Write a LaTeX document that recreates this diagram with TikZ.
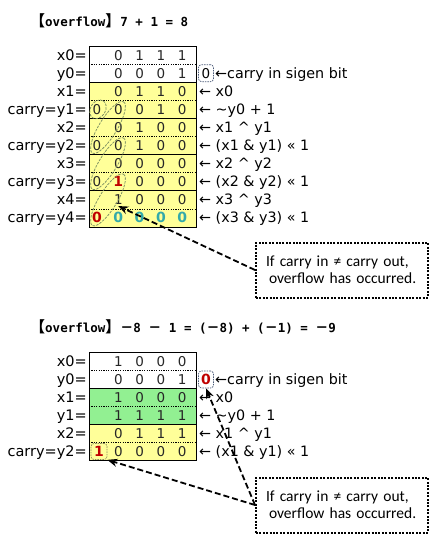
\documentclass[tikz,border=0pt]{standalone}
\usepackage{fontspec}
\setmainfont{DejaVu Sans}
\newfontfamily\monofont{DejaVu Sans Mono}
\newfontfamily\cjkfont{Noto Sans CJK JP}
\newfontfamily\calfont{Carlito}
\usetikzlibrary{arrows.meta,calc}
\definecolor{rowyellow}{HTML}{FFFF99}
\definecolor{rowgreen}{HTML}{92F092}
\definecolor{bitred}{HTML}{C00000}
\definecolor{bitteal}{HTML}{33AAAA}
\definecolor{ovalc}{HTML}{7A8E62}
\definecolor{boxblue}{HTML}{4A5A78}
\definecolor{boxolive}{HTML}{8C8C5A}
\newcommand\tbr[1]{{\cjkfont\bfseries\fontsize{15}{15}\selectfont #1}}
\newcommand\tmin{{\cjkfont\bfseries\fontsize{13}{13}\selectfont －}}
\newcommand\tmono[1]{{\monofont\bfseries\fontsize{12.5}{12.5}\selectfont #1}}
\begin{document}
\begin{tikzpicture}[x=1pt,y=-1pt,
  lbl/.style={anchor=base east,inner sep=0pt,font=\fontsize{14.5}{14.5}\selectfont},
  rlbl/.style={anchor=base west,inner sep=0pt,font=\fontsize{14.3}{14.3}\selectfont},
  bit/.style={anchor=base,inner sep=1pt,font=\fontsize{13.5}{13.5}\selectfont,text=black!85},
  redbit/.style={bit,font=\fontsize{14}{14}\selectfont\bfseries,text=bitred},
  tealbit/.style={bit,font=\fontsize{14}{14}\selectfont\bfseries,text=bitteal},
  cinbox/.style={draw=boxblue,rounded corners=3pt,line width=.7pt,dash pattern=on 1.5pt off 1pt,
     minimum width=15pt,minimum height=17pt,inner sep=0pt,font=\fontsize{13.5}{13.5}\selectfont},
  coutbox/.style={draw=boxolive,rounded corners=3pt,line width=.7pt,dash pattern=on 1.5pt off 1pt,
     minimum width=16pt,minimum height=16pt,inner sep=0pt},
  oval/.style={draw=ovalc,line width=.75pt,dash pattern=on 2.5pt off 1.2pt},
  callout/.style={draw=black,line width=2pt,dash pattern=on 2pt off 1.4pt,
     minimum width=172pt,minimum height=55pt,text width=152pt,align=left,
     font=\calfont\fontsize{15.5}{17}\selectfont},
  callarrow/.style={-{Stealth[length=10pt,width=8pt]},line width=1.8pt,dash pattern=on 6pt off 3pt},
  tline/.style={line width=.8pt},
  dline/.style={line width=.8pt,dash pattern=on 1.2pt off 1.2pt},
  title/.style={anchor=base west,inner sep=0pt}
]
\fill[white] (0,0) rectangle (440,550);
\useasboundingbox (0,0) rectangle (440,550);

% ---------------- titles ----------------
\node[title] (ti1) at (30,26) {\tbr{【}\tmono{overflow}\tbr{】}\tmono{7 + 1 = 8}};
\node[title] (ti2) at (30,332) {\tbr{【}\tmono{overflow}\tbr{】}\tmin\tmono{8 }\tmin\tmono{ 1 = (}\tmin\tmono{8) + (}\tmin\tmono{1) = }\tmin\tmono{9}};

% ---------------- table 1 ----------------
\def\Ta{46}\def\H{18.1}
\fill[white] (89,\Ta) rectangle (196,{\Ta+2*\H});
\fill[rowyellow] (89,{\Ta+2*\H}) rectangle (196,{\Ta+10*\H});
\foreach \k in {2,4,6,8} \draw[tline] (89,{\Ta+\k*\H}) -- (196,{\Ta+\k*\H});
\foreach \k in {1,3,5,7,9} \draw[dline] (89,{\Ta+\k*\H}) -- (196,{\Ta+\k*\H});
\draw[tline] (89,\Ta) rectangle (196,{\Ta+10*\H});

% left labels
\foreach \r/\t in {0/x0=,1/y0=,2/x1=,3/carry=y1=,4/x2=,5/carry=y2=,6/x3=,7/carry=y3=,8/x4=,9/carry=y4=}
  \node[lbl] (la-\r) at (87,{\Ta+\r*\H+\H/2+5}) {\t};

% plain bits cols 1..4
\foreach \r/\bits in {0/{0,1,1,1},1/{0,0,0,1},2/{0,1,1,0},3/{0,0,1,0},4/{0,1,0,0},5/{0,1,0,0},6/{0,0,0,0},8/{1,0,0,0}}
  \foreach \b [count=\c] in \bits
    \node[bit] (ta-\r-\c) at ({97+21.3*\c},{\Ta+\r*\H+\H/2+5}) {\b};
\foreach \c in {2,3,4}
  \node[bit] (ta-7-\c) at ({97+21.3*\c},{\Ta+7*\H+\H/2+5}) {0};
\node[redbit] (ta-7-1) at ({97+21.3},{\Ta+7*\H+\H/2+5}) {1};
\foreach \c in {1,2,3,4}
  \node[tealbit] (ta-9-\c) at ({97+21.3*\c},{\Ta+9*\H+\H/2+5}) {0};
% carry column
\foreach \r in {3,5,7}
  \node[bit] (ta-\r-0) at (97,{\Ta+\r*\H+\H/2+5}) {0};
\node[redbit] (ta-9-0) at (97,{\Ta+9*\H+\H/2+5}) {0};

% ovals
\draw[oval,rotate around={58.6:(98,{\Ta+3.5*\H})}] (98,{\Ta+3.5*\H}) ellipse (10 and 7.5);
\foreach \k in {3,5,7}
  \draw[oval,rotate around={58.6:(108,{\Ta+(\k+1.5)*\H})}] (108,{\Ta+(\k+1.5)*\H}) ellipse (30 and 9);

% right labels
\node[cinbox] (cina) at (206,{\Ta+1.5*\H}) {0};
\node[rlbl] (ra-1) at (215,{\Ta+1.5*\H+5}) {←carry in sigen bit};
\foreach \r/\t in {2/x0,3/\textasciitilde y0 + 1,4/x1 \textasciicircum\ y1,5/(x1 \& y1) « 1,6/x2 \textasciicircum\ y2,7/(x2 \& y2) « 1,8/x3 \textasciicircum\ y3,9/(x3 \& y3) « 1}
  \node[rlbl] (ra-\r) at (199,{\Ta+\r*\H+\H/2+5}) {← \t};

% callout 1
\node[callout] (c1) at (342,270) {If carry in ≠ carry out,\\\hspace*{3pt}overflow has occurred.};
\draw[callarrow] (c1.west) -- (ta-8-1.south);

% ---------------- table 2 ----------------
\def\Tb{352.5}\def\Hb{18}
\fill[white] (89,\Tb) rectangle (196,{\Tb+2*\Hb});
\fill[rowgreen] (89,{\Tb+2*\Hb}) rectangle (196,{\Tb+4*\Hb});
\fill[rowyellow] (89,{\Tb+4*\Hb}) rectangle (196,{\Tb+6*\Hb});
\foreach \k in {2,4} \draw[tline] (89,{\Tb+\k*\Hb}) -- (196,{\Tb+\k*\Hb});
\foreach \k in {1,3,5} \draw[dline] (89,{\Tb+\k*\Hb}) -- (196,{\Tb+\k*\Hb});
\draw[tline] (89,\Tb) rectangle (196,{\Tb+6*\Hb});

\foreach \r/\t in {0/x0=,1/y0=,2/x1=,3/y1=,4/x2=,5/carry=y2=}
  \node[lbl] (lb-\r) at (87,{\Tb+\r*\Hb+\Hb/2+5}) {\t};
\foreach \r/\bits in {0/{1,0,0,0},1/{0,0,0,1},2/{1,0,0,0},3/{1,1,1,1},4/{0,1,1,1},5/{0,0,0,0}}
  \foreach \b [count=\c] in \bits
    \node[bit] (tb-\r-\c) at ({97+21.3*\c},{\Tb+\r*\Hb+\Hb/2+5}) {\b};
\node[coutbox,text=bitred,font=\fontsize{14}{14}\selectfont\bfseries] (r1) at (99,{\Tb+5.5*\Hb}) {1};

\node[cinbox,text=bitred,font=\fontsize{14}{14}\selectfont\bfseries] (r0) at (206,{\Tb+1.5*\Hb}) {0};
\node[rlbl] (rb-1) at (215,{\Tb+1.5*\Hb+5}) {←carry in sigen bit};
\foreach \r/\t in {2/x0,3/\textasciitilde y0 + 1,4/x1 \textasciicircum\ y1,5/(x1 \& y1) « 1}
  \node[rlbl] (rb-\r) at (199,{\Tb+\r*\Hb+\Hb/2+5}) {← \t};

% callout 2
\node[callout] (c2) at (342,505) {If carry in ≠ carry out,\\\hspace*{3pt}overflow has occurred.};
\draw[callarrow] (c2.west) -- (r1.south east);
\draw[callarrow] (c2.west) -- (r0.south);
\end{tikzpicture}
\end{document}
